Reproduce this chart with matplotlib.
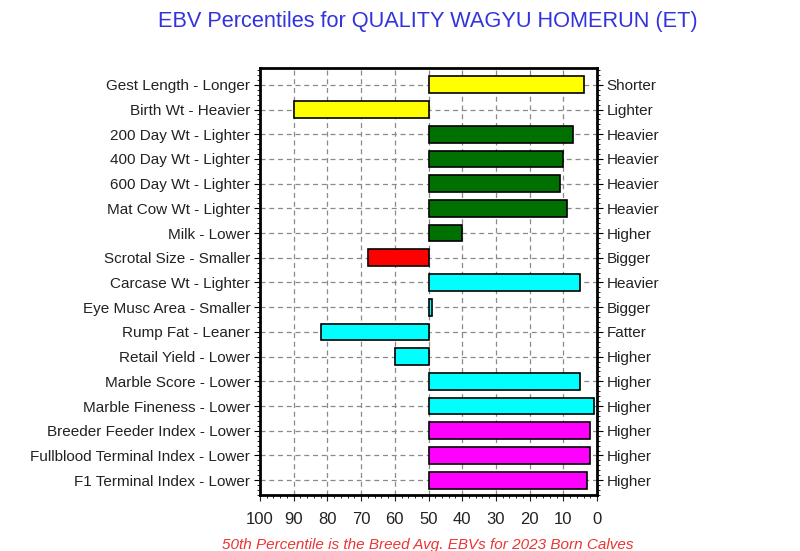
import matplotlib
matplotlib.use("Agg")
import matplotlib.pyplot as plt
from matplotlib.ticker import MultipleLocator

plt.rcParams['font.family'] = ['Liberation Sans', 'DejaVu Sans']

left_labels = ["Gest Length - Longer", "Birth Wt - Heavier", "200 Day Wt - Lighter",
               "400 Day Wt - Lighter", "600 Day Wt - Lighter", "Mat Cow Wt - Lighter",
               "Milk - Lower", "Scrotal Size - Smaller", "Carcase Wt - Lighter",
               "Eye Musc Area - Smaller", "Rump Fat - Leaner", "Retail Yield - Lower",
               "Marble Score - Lower", "Marble Fineness - Lower", "Breeder Feeder Index - Lower",
               "Fullblood Terminal Index - Lower", "F1 Terminal Index - Lower"]
right_labels = ["Shorter", "Lighter", "Heavier", "Heavier", "Heavier", "Heavier", "Higher",
                "Bigger", "Heavier", "Bigger", "Fatter", "Higher", "Higher", "Higher",
                "Higher", "Higher", "Higher"]
percentiles = [4, 90, 7, 10, 11, 9, 40, 68, 5, 49, 82, 60, 5, 1, 2, 2, 3]
colors = ["#ffff00", "#ffff00", "#007000", "#007000", "#007000", "#007000", "#007000",
          "#ff0000", "#00ffff", "#00ffff", "#00ffff", "#00ffff", "#00ffff", "#00ffff",
          "#ff00ff", "#ff00ff", "#ff00ff"]

fig = plt.figure(figsize=(8, 5.51), dpi=100)
ax = fig.add_axes([260/800, 1-495/551, (597-260)/800, (495-68)/551])

ypos = list(range(len(left_labels)))
widths = [p - 50 for p in percentiles]
ax.barh(ypos, widths, left=50, height=0.68, color=colors, edgecolor='black', linewidth=1.2, zorder=3)

ax.set_xlim(100, 0)
ax.set_ylim(16.6, -0.68)
ax.xaxis.set_major_locator(MultipleLocator(10))
ax.xaxis.set_minor_locator(MultipleLocator(2))
ax.set_yticks(ypos)
ax.set_yticklabels(left_labels, fontsize=11, color='#222222')
ax.yaxis.set_minor_locator(MultipleLocator(0.2))
ax.tick_params(axis='x', which='major', labelsize=12, colors='#222222', length=4,
               direction='out', pad=8)
ax.tick_params(axis='x', which='minor', length=2)
ax.tick_params(axis='y', which='major', length=4, left=True, right=False, pad=3)
ax.tick_params(axis='y', which='minor', length=2, left=True, right=True)
ax.grid(True, which='major', linestyle=(0, (4, 3)), color='#8a8a8a', linewidth=0.9, zorder=0)
for s in ax.spines.values():
    s.set_linewidth(2)
    s.set_color('black')

ax2 = ax.twinx()
ax2.set_ylim(ax.get_ylim())
ax2.set_yticks(ypos)
ax2.set_yticklabels(right_labels, fontsize=11, color='#222222')
ax2.tick_params(axis='y', which='major', length=4, pad=3)
ax2.yaxis.set_minor_locator(MultipleLocator(0.2))
ax2.tick_params(axis='y', which='minor', length=2)
for s in ax2.spines.values():
    s.set_visible(False)

fig.text(428/800, 1-21/551, "EBV Percentiles for QUALITY WAGYU HOMERUN (ET)",
         ha='center', va='center', fontsize=15.7, color='#3333dd')
fig.text(428/800, 1-545/551, "50th Percentile is the Breed Avg. EBVs for 2023 Born Calves",
         ha='center', va='center', fontsize=11, color='#ee3333', style='italic')

fig.savefig("out.png", dpi=100)
